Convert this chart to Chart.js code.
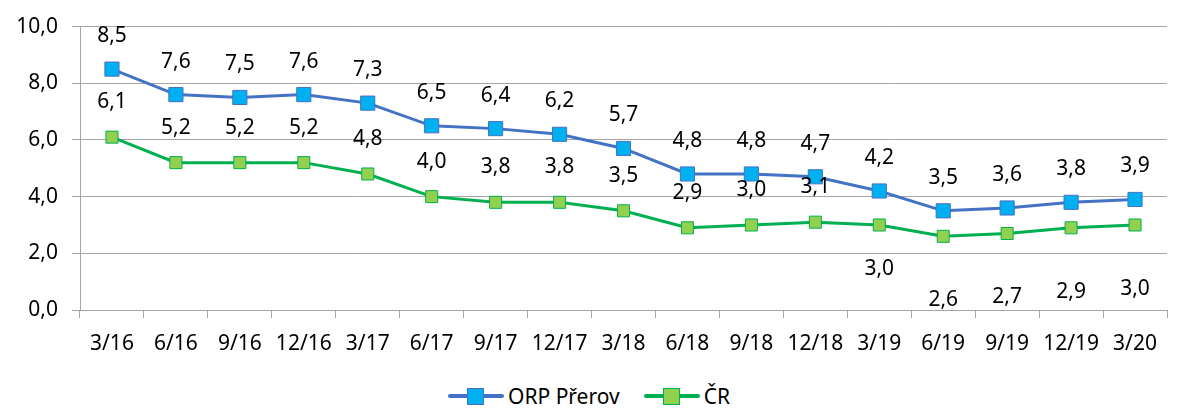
<!DOCTYPE html>
<html lang="cs">
<head>
<meta charset="UTF-8">
<title>ORP Přerov vs ČR</title>
<script src="https://cdn.jsdelivr.net/npm/chart.js@4/dist/chart.umd.min.js"></script>
<style>
  html, body { margin:0; padding:0; background:#fff; }
  body { width:1178px; height:410px; position:relative; overflow:hidden; font-family:"Noto Sans", sans-serif; }
  #wrap { position:absolute; left:0; top:0; width:1178px; height:366px; }
  .legend { position:absolute; left:0; right:0; top:382px; display:flex; justify-content:center; gap:24px; font-size:21px; color:#000; }
  .item { display:flex; align-items:center; gap:4px; }
  .key { position:relative; width:56px; height:22px; }
  .key .ln { position:absolute; left:0; right:0; top:9px; height:4px; border-radius:2px; }
  .key .sq { position:absolute; left:19px; top:3px; width:15px; height:15px; }
</style>
</head>
<body>
<div id="wrap"><canvas id="chart"></canvas></div>
<div class="legend">
  <div class="item"><div class="key"><div class="ln" style="background:#4472c4"></div><div class="sq" style="background:#00b0f0;border:1px solid #4472c4"></div></div>ORP Přerov</div>
  <div class="item"><div class="key"><div class="ln" style="background:#00b050"></div><div class="sq" style="background:#92d050;border:1px solid #00b050"></div></div>ČR</div>
</div>
<script>
const labels = ['3/16','6/16','9/16','12/16','3/17','6/17','9/17','12/17','3/18','6/18','9/18','12/18','3/19','6/19','9/19','12/19','3/20'];
const orp = [8.5, 7.6, 7.5, 7.6, 7.3, 6.5, 6.4, 6.2, 5.7, 4.8, 4.8, 4.7, 4.2, 3.5, 3.6, 3.8, 3.9];
const cr  = [6.1, 5.2, 5.2, 5.2, 4.8, 4.0, 3.8, 3.8, 3.5, 2.9, 3.0, 3.1, 3.0, 2.6, 2.7, 2.9, 3.0];
const yTicks = [0, 2, 4, 6, 8, 10];

const fmt = v => v.toFixed(1).replace('.', ',');
const FONT = { family: '"Noto Sans", sans-serif', size: 21 };

// label offsets (px, negative = above point)
const labelOffsets = [
  orp.map(() => -33),
  cr.map((v, i) => i < 12 ? -35 : (i === 12 ? 44 : 64))
];

const valueLabels = {
  id: 'valueLabels',
  afterDatasetsDraw(chart) {
    const ctx = chart.ctx;
    ctx.save();
    ctx.font = FONT.size + 'px ' + FONT.family;
    ctx.fillStyle = '#000';
    ctx.textAlign = 'center';
    ctx.textBaseline = 'middle';
    chart.data.datasets.forEach((ds, di) => {
      chart.getDatasetMeta(di).data.forEach((pt, i) => {
        ctx.fillText(fmt(ds.data[i]), pt.x, pt.y + labelOffsets[di][i]);
      });
    });
    ctx.restore();
  }
};

new Chart(document.getElementById('chart'), {
  type: 'line',
  data: {
    labels: labels,
    datasets: [
      { label: 'ORP Přerov', data: orp, borderColor: '#4472c4', borderWidth: 3,
        pointStyle: 'rect', pointRadius: 10, pointBackgroundColor: '#00b0f0',
        pointBorderColor: '#4472c4', pointBorderWidth: 1, tension: 0 },
      { label: 'ČR', data: cr, borderColor: '#00b050', borderWidth: 3,
        pointStyle: 'rect', pointRadius: 8.5, pointBackgroundColor: '#92d050',
        pointBorderColor: '#00b050', pointBorderWidth: 1, tension: 0 }
    ]
  },
  options: {
    responsive: true,
    maintainAspectRatio: false,
    animation: false,
    layout: { padding: { top: 25, right: 0, left: 0, bottom: 0 } },
    plugins: { legend: { display: false }, tooltip: { enabled: false } },
    scales: {
      x: {
        offset: true,
        grid: { drawOnChartArea: false, drawTicks: true, tickLength: 8, color: '#a6a6a6', offset: true },
        border: { color: '#a6a6a6', width: 1 },
        ticks: { color: '#000', font: FONT, maxRotation: 0, autoSkip: false, padding: 13 },
        afterFit(s) { s.height = 56; }
      },
      y: {
        min: 0, max: 10,
        afterBuildTicks(s) { s.ticks = yTicks.map(v => ({ value: v })); },
        grid: { color: '#a6a6a6', tickLength: 8 },
        border: { color: '#a6a6a6', width: 1 },
        ticks: { color: '#000', font: FONT, padding: 14, callback: v => fmt(v) },
        afterFit(s) { s.width = 80; }
      }
    }
  },
  plugins: [valueLabels]
});
</script>
</body>
</html>
